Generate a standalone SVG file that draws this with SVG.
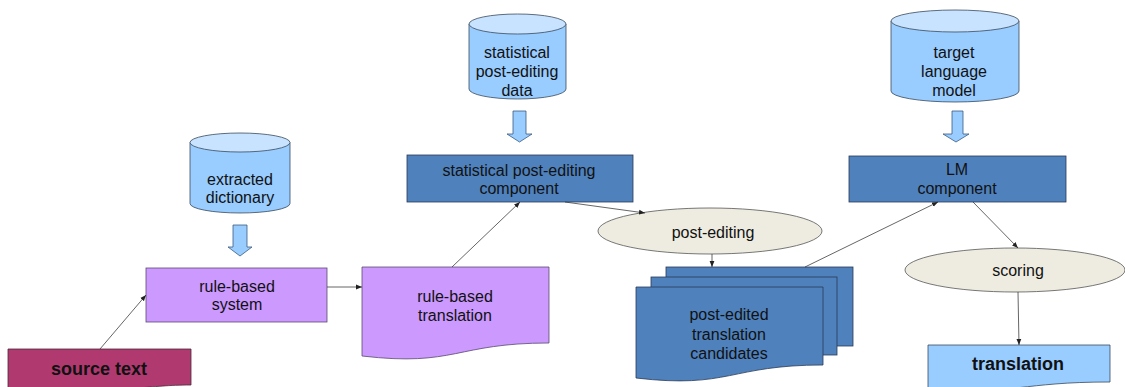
<svg xmlns="http://www.w3.org/2000/svg" width="1125" height="387" viewBox="0 0 1125 387">
<defs>
<marker id="ah" viewBox="0 0 10 10" refX="10" refY="5" markerWidth="6" markerHeight="6" markerUnits="userSpaceOnUse" orient="auto">
<path d="M0,1 L10,5 L0,9 Z" fill="#222"/>
</marker>
</defs>
<style>
text{font-family:"Liberation Sans",Arial,sans-serif;font-size:16px;fill:#111;text-anchor:middle}
.b{font-weight:bold;font-size:18px}
.cyl{fill:#99CCFF;stroke:#3a4a5c;stroke-width:0.8}
.cyltop{fill:#C8E3FF;stroke:#3a4a5c;stroke-width:0.8}
.barrow{fill:#99CCFF;stroke:#3a5a80;stroke-width:0.8}
.purple{fill:#CC99FF;stroke:#5a4a70;stroke-width:0.8}
.blue{fill:#4F81BD;stroke:#2a3a55;stroke-width:0.8}
.lblue{fill:#99CCFF;stroke:#3a4a5c;stroke-width:0.8}
.src{fill:#B03A70;stroke:#4a2a3a;stroke-width:0.8}
.ell{fill:#EEECE1;stroke:#555;stroke-width:0.8}
.conn{fill:none;stroke:#333;stroke-width:0.75;marker-end:url(#ah)}
</style>

<g id="extracted-dictionary">
<path class="cyl" d="M190,142.5 V203.5 A50,9.5 0 0 0 290,203.5 V142.5 Z"/>
<ellipse class="cyltop" cx="240" cy="142.5" rx="50" ry="9.5"/>
<text x="240" y="185">extracted</text>
<text x="240" y="203">dictionary</text>
</g>
<g id="arrow-dict">
<path class="barrow" d="M233,225 H247 V247 H252 L240,256 L228,247 H233 Z"/>
</g>

<g id="spe-data">
<path class="cyl" d="M469,24 V89 A48.5,10 0 0 0 566,89 V24 Z"/>
<ellipse class="cyltop" cx="517.5" cy="24" rx="48.5" ry="10"/>
<text x="517" y="58">statistical</text>
<text x="517" y="77">post-editing</text>
<text x="517" y="96">data</text>
</g>
<g id="arrow-spe">
<path class="barrow" d="M513,111 H526 V134 H532 L519.5,142 L507,134 H513 Z"/>
</g>

<g id="tlm">
<path class="cyl" d="M891,21 V91 A64,11 0 0 0 1019,91 V21 Z"/>
<ellipse class="cyltop" cx="955" cy="21" rx="64" ry="11"/>
<text x="954" y="58">target</text>
<text x="954" y="77">language</text>
<text x="954" y="96">model</text>
</g>
<g id="arrow-lm">
<path class="barrow" d="M952,111 H963 V134 H969 L956,142 L943,134 H952 Z"/>
</g>

<g id="source-text">
<path class="src" d="M8,349 H191 V385 C145,385 145,392 8,390 Z"/>
<text class="b" x="99" y="375">source text</text>
</g>

<g id="rule-based-system">
<rect class="purple" x="146" y="268" width="181" height="54"/>
<text x="237" y="292">rule-based</text>
<text x="237" y="310">system</text>
</g>

<g id="rule-based-translation">
<path class="purple" d="M362,267 H549 V343 C455.5,343 455.5,367 362,356 Z"/>
<text x="455" y="302">rule-based</text>
<text x="455" y="321">translation</text>
</g>

<g id="spe-component">
<rect class="blue" x="407" y="155" width="226" height="47"/>
<text x="519" y="176">statistical post-editing</text>
<text x="519" y="194">component</text>
</g>

<g id="post-editing">
<ellipse class="ell" cx="710" cy="231" rx="112" ry="23"/>
<text x="713" y="238">post-editing</text>
</g>

<g id="candidates">
<rect class="blue" x="666" y="267" width="187" height="79"/>
<rect class="blue" x="651" y="277" width="186" height="78"/>
<path class="blue" d="M636,287 H823 V365 C729.5,365 729.5,389 636,378 Z"/>
<text x="729" y="320">post-edited</text>
<text x="729" y="340">translation</text>
<text x="729" y="359">candidates</text>
</g>

<g id="lm-component">
<rect class="blue" x="849" y="156" width="217" height="46"/>
<text x="957" y="175">LM</text>
<text x="957" y="194">component</text>
</g>

<g id="scoring">
<ellipse class="ell" cx="1015" cy="270" rx="110" ry="22"/>
<text x="1018" y="276">scoring</text>
</g>

<g id="translation">
<path class="lblue" d="M928,345 H1110 V382 C1019,382 1019,395 928,388 Z"/>
<text class="b" x="1018" y="370">translation</text>
</g>

<g id="connectors">
<line class="conn" x1="100" y1="349" x2="146" y2="295"/>
<line class="conn" x1="327" y1="287" x2="362" y2="287"/>
<line class="conn" x1="452" y1="267" x2="520" y2="202"/>
<line class="conn" x1="565" y1="202" x2="645" y2="213"/>
<line class="conn" x1="712" y1="254" x2="712" y2="267"/>
<line class="conn" x1="805" y1="267" x2="938" y2="202"/>
<line class="conn" x1="973" y1="202" x2="1018" y2="248"/>
<line class="conn" x1="1018" y1="292" x2="1019" y2="345"/>
</g>
</svg>
